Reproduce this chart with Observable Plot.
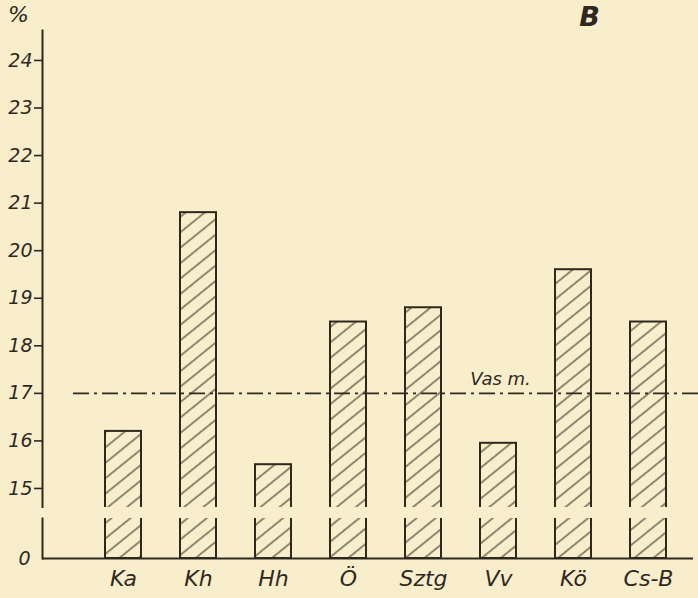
<!DOCTYPE html>
<html>
<head>
<meta charset="utf-8">
<script src="https://cdn.jsdelivr.net/npm/d3@7"></script>
<script src="https://cdn.jsdelivr.net/npm/@observablehq/plot@0.6"></script>
<style>
  html, body { margin: 0; padding: 0; background: #f8eecb; }
  #chart { width: 698px; height: 598px; position: relative; }
  #chart svg { display: block; }
  #defs { position: absolute; width: 0; height: 0; }
</style>
</head>
<body>
<svg id="defs" width="0" height="0">
  <defs>
    <pattern id="hatch" patternUnits="userSpaceOnUse" width="12" height="12" patternTransform="rotate(-39)">
      <line x1="0" y1="6" x2="12" y2="6" stroke="#3a3226" stroke-width="1.1"></line>
    </pattern>
  </defs>
</svg>
<div id="chart"></div>
<script>
// ---- data ----
const names = ["Ka", "Kh", "Hh", "Ö", "Sztg", "Vv", "Kö", "Cs-B"];
const values = [16.2, 20.8, 15.5, 18.5, 18.8, 15.95, 19.6, 18.5];
const upperTicks = [15, 16, 17, 18, 19, 20, 21, 22, 23, 24];
const lowerTicks = [0];
const averageValue = 17;
const averageLabel = "Vas m.";
const averageAt = "Vv";
const unitLabel = "%";
const panelLabel = "B";

const data = names.map((name, i) => ({name, value: values[i]}));
const ink = "#2f281e";
const font = "'DejaVu Sans', sans-serif";

const xScale = {domain: names, paddingInner: 0.525, paddingOuter: 0.557, align: 0.692, axis: null};

const upper = Plot.plot({
  width: 698, height: 508,
  marginLeft: 42, marginRight: 5, marginTop: 30, marginBottom: 1,
  x: xScale,
  y: {domain: [14.6, 24.63], axis: null},
  style: {background: "transparent", color: ink, fontFamily: font, fontStyle: "italic", fontSize: "19px"},
  marks: [
    Plot.frame({anchor: "left", stroke: ink, strokeWidth: 2}),
    Plot.axisY(upperTicks, {anchor: "left", label: null, tickSize: 8, tickPadding: 2, tickFormat: d => String(d), fontSize: 19, strokeWidth: 1.6}),
    Plot.barY(data, {x: "name", y1: 14, y2: "value", fill: "url(#hatch)", stroke: ink, strokeWidth: 2, clip: true}),
    Plot.ruleY([averageValue], {stroke: ink, strokeWidth: 1.6, strokeDasharray: "16,5,3,5", insetLeft: 31, insetRight: -5}),
    Plot.text([{label: averageLabel, name: averageAt, value: averageValue}], {x: "name", y: "value", text: "label", dy: -14, dx: 2, fontSize: 18, fill: ink}),
    Plot.text([panelLabel], {frameAnchor: "top-right", textAnchor: "middle", lineAnchor: "middle", dx: -104, dy: -13, fontSize: 27, fontWeight: 600, fill: ink}),
    Plot.text([unitLabel], {frameAnchor: "top-left", textAnchor: "middle", lineAnchor: "middle", dx: -24, dy: -16, fontSize: 22, fill: ink})
  ]
});

const lower = Plot.plot({
  width: 698, height: 90,
  marginLeft: 42, marginRight: 5, marginTop: 10, marginBottom: 40,
  x: xScale,
  y: {domain: [0, 0.84], axis: null},
  style: {background: "transparent", color: ink, fontFamily: font, fontStyle: "italic", fontSize: "19px"},
  marks: [
    Plot.frame({anchor: "left", stroke: ink, strokeWidth: 2}),
    Plot.axisY(lowerTicks, {anchor: "left", label: null, tickSize: 0, tickPadding: 12, tickFormat: d => String(d), fontSize: 19}),
    Plot.barY(data, {x: "name", y1: 0, y2: "value", fill: "url(#hatch)", stroke: ink, strokeWidth: 2, clip: true}),
    Plot.ruleY([0], {stroke: ink, strokeWidth: 2}),
    Plot.axisX({anchor: "bottom", label: null, tickSize: 0, tickPadding: 12, fontSize: 22})
  ]
});

const chart = document.getElementById("chart");
chart.appendChild(upper);
chart.appendChild(lower);
</script>
</body>
</html>
